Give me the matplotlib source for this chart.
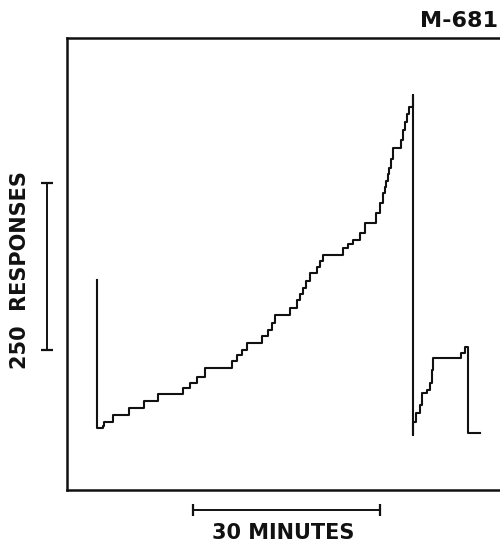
import numpy as np
import matplotlib.pyplot as plt

# cumulative record, minutes vs. cumulative responses (pen resets included)
record_min = [4.81, 4.81, 5.78, 5.94, 7.38, 9.95, 12.35, 14.60, 18.61, 19.73,
              20.86, 22.14, 26.47, 27.27, 28.08, 28.88, 31.28, 32.25, 32.89, 33.37,
              35.78, 36.90, 37.38, 37.86, 38.34, 38.98, 40.11, 40.59, 41.07, 44.28,
              45.08, 45.88, 47.01, 47.81, 49.57, 50.22, 50.70, 51.02, 51.18, 51.50,
              51.66, 51.98, 52.30, 53.59, 53.90, 54.23, 54.55, 54.87, 55.45, 55.45,
              55.51, 55.99, 56.63, 56.95, 57.76, 58.24, 58.56, 58.72, 63.21, 63.85,
              64.33, 66.26]
record_resp = [314, 93, 96, 102, 112, 123, 133, 144, 153, 160,
               169, 183, 193, 202, 210, 220, 231, 240, 250, 262,
               272, 284, 293, 302, 313, 325, 334, 343, 352, 362,
               368, 374, 385, 400, 415, 430, 445, 454, 463, 473,
               482, 496, 512, 524, 539, 551, 563, 573, 591, 82,
               102, 115, 127, 145, 150, 160, 180, 198, 205, 214,
               85, 85]

resp_bar = [210, 460]       # 250 responses
minute_bar = [20.2, 50.2]   # 30 minutes

fig = plt.figure(figsize=(5, 5.45), dpi=100)
ax = fig.add_axes([0.134, 0.101, 0.906, 0.829])

ax.step(record_min, record_resp, where="post", color="#111111", lw=1.5)

ax.set_xlim(0, 72.7)
ax.set_ylim(0, 676.6)
ax.set_xticks([])
ax.set_yticks([])
for side in ["left", "top", "bottom"]:
    ax.spines[side].set_linewidth(1.8)
    ax.spines[side].set_color("#111111")
ax.spines["right"].set_visible(False)

# scale bars outside the frame
ax.plot([-3.2, -3.2], resp_bar, color="#111111", lw=1.4, clip_on=False)
ax.plot([-3.2, -3.2], resp_bar, ls="none", marker="_", ms=9, mew=1.6,
        color="#111111", clip_on=False)
ax.plot(minute_bar, [-30, -30], color="#111111", lw=1.4, clip_on=False)
ax.plot(minute_bar, [-30, -30], ls="none", marker="|", ms=9, mew=1.6,
        color="#111111", clip_on=False)

fig.text(0.04, 0.505, "250  RESPONSES", rotation=90, ha="center", va="center",
         fontsize=15, fontweight="bold", color="#111111")
fig.text(0.566, 0.022, "30 MINUTES", ha="center", va="center",
         fontsize=15, fontweight="bold", color="#111111")
fig.text(0.996, 0.961, "M-681", ha="right", va="center",
         fontsize=16, fontweight="bold", color="#111111")

fig.savefig("out.png", dpi=100)
